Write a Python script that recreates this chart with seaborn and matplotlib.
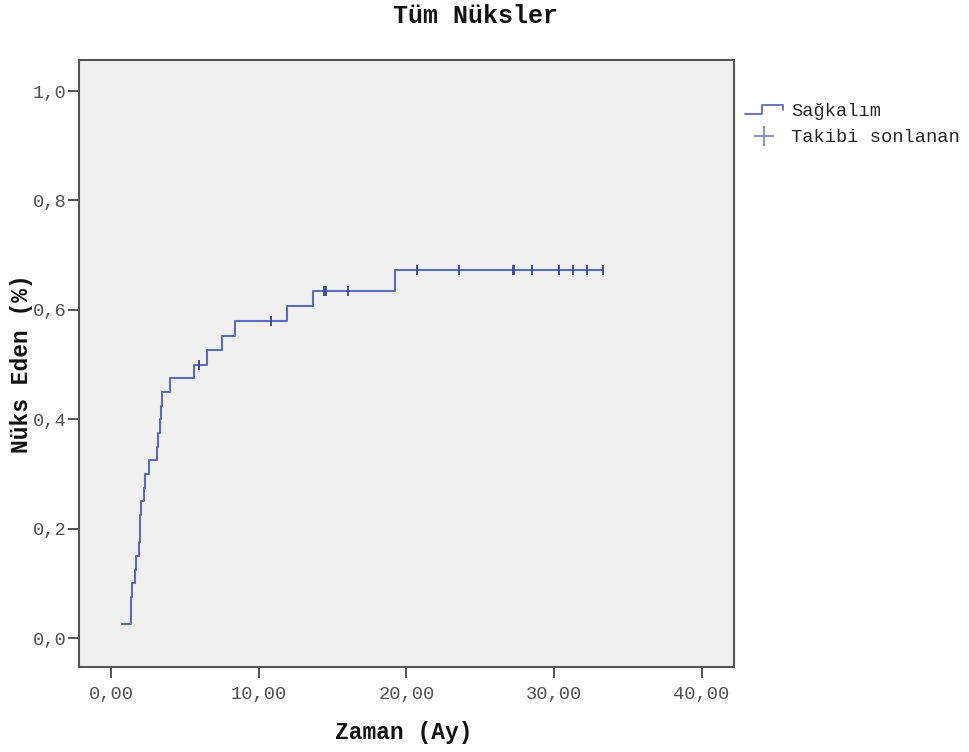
import numpy as np
import pandas as pd
import matplotlib
matplotlib.use("Agg")
import matplotlib.pyplot as plt
import seaborn as sns
from matplotlib.lines import Line2D
from matplotlib.legend_handler import HandlerBase
from matplotlib.ticker import FixedLocator, FixedFormatter

# ---- data ----
event_times = [0.75, 1.32, 1.36, 1.40, 1.61, 1.65, 1.90, 1.93, 1.96, 1.99,
               2.24, 2.28, 2.58, 3.08, 3.17, 3.27, 3.34, 3.42, 3.98, 5.63,
               6.51, 7.53, 8.39, 11.89, 13.65, 19.25, 33.30]
cum_relapse = [0.025, 0.050, 0.075, 0.100, 0.125, 0.150, 0.175, 0.200, 0.225, 0.250,
               0.275, 0.300, 0.325, 0.350, 0.375, 0.400, 0.425, 0.450, 0.475, 0.500,
               0.526, 0.553, 0.579, 0.607, 0.635, 0.672, 0.672]
censor_times = [5.95, 10.81, 14.42, 14.55, 16.03, 20.71, 23.57, 27.20, 27.30,
                28.50, 30.35, 31.28, 32.23, 33.30]

x_ticks = [0, 10, 20, 30, 40]
x_tick_labels = ["0,00", "10,00", "20,00", "30,00", "40,00"]
y_ticks = [0.0, 0.2, 0.4, 0.6, 0.8, 1.0]
y_tick_labels = ["0,0", "0,2", "0,4", "0,6", "0,8", "1,0"]

title = "Tüm Nüksler"
x_label = "Zaman (Ay)"
y_label = "Nüks Eden (%)"
legend_labels = ["Sağkalım", "Takibi sonlanan"]

# ---- frames ----
curve = pd.DataFrame({"t": event_times, "p": cum_relapse})
idx = np.searchsorted(np.array(event_times), np.array(censor_times), side="right") - 1
cens = pd.DataFrame({"t": censor_times, "p": np.array(cum_relapse)[idx]})

LINE_C = "#5d6cb6"
MARK_C = "#3f4c98"
MONO = "Liberation Mono"

sns.set_theme(style="white")
plt.rcParams["font.family"] = [MONO, "DejaVu Sans Mono"]

fig = plt.figure(figsize=(9.70, 7.52), dpi=100)
ax = fig.add_axes([79/970, 1-667/752, (734-79)/970, (667-60)/752])
ax.set_facecolor("#f0f0f0")

sns.lineplot(data=curve, x="t", y="p", ax=ax, estimator=None, sort=False,
             drawstyle="steps-post", color=LINE_C, linewidth=1.5, legend=False)
sns.scatterplot(data=cens, x="t", y="p", ax=ax, marker="|", s=60,
                color=MARK_C, linewidth=1.4, legend=False, zorder=5)

ax.set_xlim(-2.19, 42.2)
ax.set_ylim(-0.053, 1.0567)

ax.xaxis.set_major_locator(FixedLocator(x_ticks))
ax.xaxis.set_major_formatter(FixedFormatter(x_tick_labels))
ax.yaxis.set_major_locator(FixedLocator(y_ticks))
ax.yaxis.set_major_formatter(FixedFormatter(y_tick_labels))
ax.tick_params(axis="both", which="major", direction="out", length=8, width=1.3,
               color="#444444", labelsize=13.5, labelcolor="#505050",
               bottom=True, left=True)
ax.tick_params(axis="x", pad=6)
ax.tick_params(axis="y", pad=1)

for s in ax.spines.values():
    s.set_visible(True)
    s.set_color("#555555")
    s.set_linewidth(1.5)

ax.set_xlabel(x_label, fontsize=16.5, fontweight="bold", color="#111111")
ax.set_ylabel(y_label, fontsize=16.5, fontweight="bold", color="#111111")
ax.xaxis.set_label_coords((404 - 79) / 655, -(721 - 667) / 607)
ax.yaxis.set_label_coords(-(79 - 33) / 655, 0.5)

fig.text(476 / 970, 1 - 16 / 752, title, ha="center", va="center",
         fontsize=18, fontweight="bold", color="#111111")

class StepHandler(HandlerBase):
    def create_artists(self, legend, orig_handle, xdescent, ydescent,
                       width, height, fontsize, trans):
        xs = np.array([0.0, 0.45, 0.45, 1.0, 1.0]) * width - xdescent
        ys = np.array([0.15, 0.15, 0.85, 0.85, 0.45]) * height - ydescent
        ln = Line2D(xs, ys, color=LINE_C, linewidth=1.3)
        ln.set_transform(trans)
        return [ln]

step_handle = Line2D([], [], color=LINE_C)
cens_handle = Line2D([], [], marker="+", linestyle="none", color="#7080c0",
                     markersize=14, markeredgewidth=1.2)
fig.legend([step_handle, cens_handle], legend_labels,
           handler_map={step_handle: StepHandler()},
           loc="upper left", bbox_to_anchor=(745/970, 1 - 103/752),
           frameon=False, fontsize=13.5, handlelength=2.03, handletextpad=0.43,
           labelspacing=0.48, borderpad=0.0, borderaxespad=0.0)

fig.savefig("out.png", dpi=100)
